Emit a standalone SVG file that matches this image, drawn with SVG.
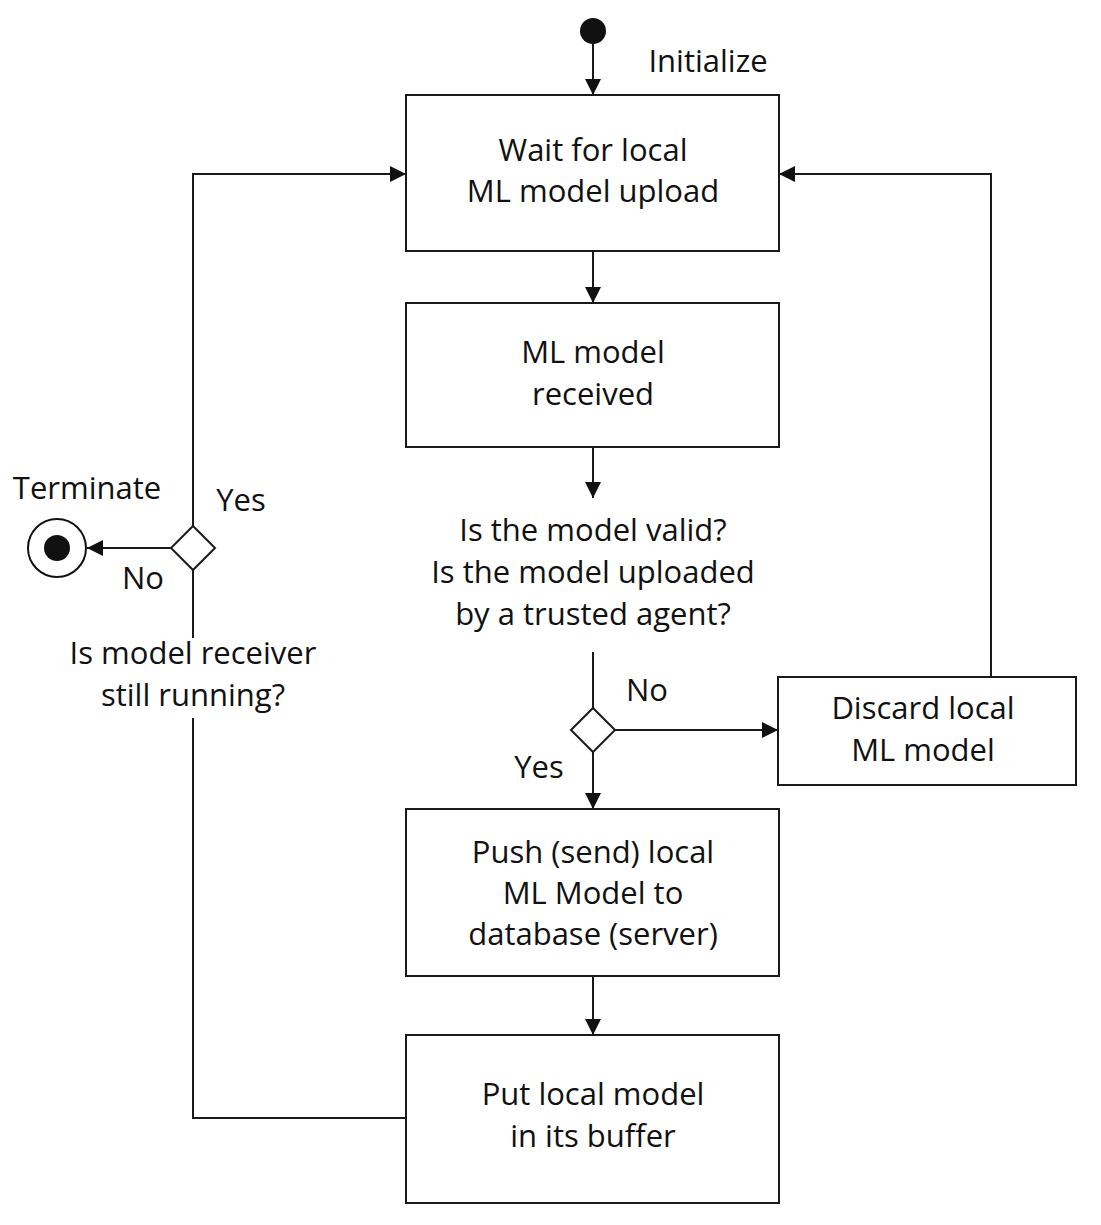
<svg xmlns="http://www.w3.org/2000/svg" width="1101" height="1225" viewBox="0 0 1101 1225">
<style>
.box{fill:#fff;stroke:#1a1a1a;stroke-width:2}
.dia{fill:#fff;stroke:#1a1a1a;stroke-width:2}
.ln{fill:none;stroke:#1a1a1a;stroke-width:2}
text{font-family:"Open Sans","Liberation Sans",sans-serif;font-size:31px;fill:#111;text-anchor:middle}
</style>
<defs>
<marker id="ah" viewBox="0 0 16 16" refX="16" refY="8" markerWidth="16" markerHeight="16" markerUnits="userSpaceOnUse" orient="auto">
<path d="M0,0 L16,8 L0,16 Z" fill="#111"/>
</marker>
</defs>
<rect width="1101" height="1225" fill="#fff"/>
<g id="connectors">
<line class="ln" x1="593" y1="44" x2="593" y2="95" marker-end="url(#ah)"/>
<line class="ln" x1="593" y1="251" x2="593" y2="303" marker-end="url(#ah)"/>
<line class="ln" x1="593" y1="447" x2="593" y2="498" marker-end="url(#ah)"/>
<line class="ln" x1="593" y1="652" x2="593" y2="708"/>
<line class="ln" x1="615" y1="730" x2="778" y2="730" marker-end="url(#ah)"/>
<polyline class="ln" points="991,677 991,174 779,174" marker-end="url(#ah)"/>
<line class="ln" x1="593" y1="752" x2="593" y2="809" marker-end="url(#ah)"/>
<line class="ln" x1="593" y1="976" x2="593" y2="1035" marker-end="url(#ah)"/>
<polyline class="ln" points="406,1118 193,1118 193,718"/>
<line class="ln" x1="193" y1="638" x2="193" y2="570"/>
<polyline class="ln" points="193,526 193,174 406,174" marker-end="url(#ah)"/>
<line class="ln" x1="171" y1="548" x2="87" y2="548" marker-end="url(#ah)"/>
</g>
<g id="start"><circle cx="593" cy="31" r="13" fill="#111"/></g>
<text x="708" y="72">Initialize</text>
<g id="wait"><rect class="box" x="406" y="95" width="373" height="156"/>
<text x="593" y="161">Wait for local</text><text x="593" y="202">ML model upload</text></g>
<g id="received"><rect class="box" x="406" y="303" width="373" height="144"/>
<text x="593" y="363">ML model</text><text x="593" y="405">received</text></g>
<g id="question"><text x="593" y="541">Is the model valid?</text><text x="593" y="583">Is the model uploaded</text><text x="593" y="625">by a trusted agent?</text></g>
<g id="decision1"><polygon class="dia" points="593,708 615,730 593,752 571,730"/></g>
<text x="647" y="701">No</text>
<text x="539" y="778">Yes</text>
<g id="discard"><rect class="box" x="778" y="677" width="298" height="108"/>
<text x="923" y="719">Discard local</text><text x="923" y="761">ML model</text></g>
<g id="push"><rect class="box" x="406" y="809" width="373" height="167"/>
<text x="593" y="863">Push (send) local</text><text x="593" y="904">ML Model to</text><text x="593" y="945">database (server)</text></g>
<g id="buffer"><rect class="box" x="406" y="1035" width="373" height="168"/>
<text x="593" y="1105">Put local model</text><text x="593" y="1147">in its buffer</text></g>
<g id="decision2"><polygon class="dia" points="193,526 215,548 193,570 171,548"/></g>
<g id="running"><text x="193" y="664">Is model receiver</text><text x="193" y="706">still running?</text></g>
<text x="241" y="511">Yes</text>
<text x="143" y="589">No</text>
<g id="terminate"><circle cx="57" cy="548" r="29" fill="#fff" stroke="#111" stroke-width="2"/><circle cx="57" cy="548" r="13" fill="#111"/>
<text x="87" y="499">Terminate</text></g>
</svg>
